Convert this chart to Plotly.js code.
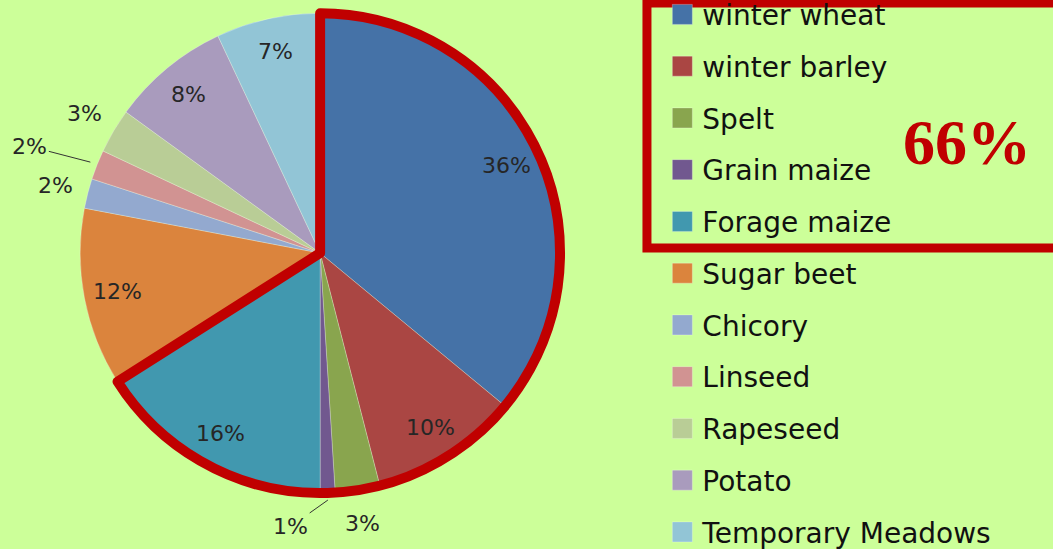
<!DOCTYPE html>
<html><head><meta charset="utf-8">
<script src="https://cdn.plot.ly/plotly-3.0.1.min.js"></script>
<style>html,body{margin:0;padding:0;background:#ccff99;}#chart{width:1053px;height:549px;}</style>
</head><body><div id="chart"></div>
<script>
const crops = ["winter wheat","winter barley","Spelt","Grain maize","Forage maize","Sugar beet","Chicory","Linseed","Rapeseed","Potato","Temporary Meadows"];
const shares = [36,10,3,1,16,12,2,2,3,8,7];
const colors = ["#4572a7","#aa4643","#89a54e","#71588f","#4198af","#db843d","#93a9cf","#d19392","#b9cd96","#a99bbd","#92c5d6"];
const labelPlace = ["in","in","out","lead","in","in","out","lead","out","in","in"];
const cerealCount = 5;
const cerealShare = shares.slice(0,cerealCount).reduce((a,b)=>a+b,0);

const W = 1053, H = 549;
const domain = {x:[0.076,0.532], y:[0.102,0.976]};
const pie = {
  type:"pie", labels: crops.map(c=>'<span style="font-size:28px">'+c+'</span>'), values: shares, sort:false, direction:"clockwise", rotation:0,
  marker:{colors:colors, line:{color:"rgba(255,255,255,0.45)", width:0.6}},
  textinfo:"none", hoverinfo:"label+percent", domain:domain
};
const outline = {
  type:"pie", values:[cerealShare, 100-cerealShare], sort:false, direction:"clockwise", rotation:0,
  marker:{colors:["rgba(0,0,0,0)","rgba(0,0,0,0)"], line:{color:["#c00000","rgba(0,0,0,0)"], width:[10,0]}},
  textinfo:"none", hoverinfo:"skip", showlegend:false, domain:domain
};
const layout = {
  width:W, height:H, margin:{l:0,r:0,t:0,b:0,autoexpand:false},
  paper_bgcolor:"#ccff99", plot_bgcolor:"#ccff99",
  showlegend:true,
  legend:{x:0.629, xanchor:"left", y:1.03, yanchor:"top", maxheight:1000, font:{family:"DejaVu Sans, sans-serif", size:37.5, color:"#111"}, bgcolor:"rgba(0,0,0,0)"},
  shapes:[{type:"rect", xref:"paper", yref:"paper", x0:0.6144, x1:1.02, y0:0.5483, y1:0.9945, line:{color:"#c00000", width:9}, fillcolor:"rgba(0,0,0,0)"}],
  annotations:[{xref:"paper", yref:"paper", x:967/W, y:(H-142)/H, xanchor:"center", yanchor:"middle", text:"<b>"+cerealShare+"%</b>", showarrow:false, font:{family:"Liberation Serif, serif", size:64, color:"#c00000"}}]
};
const gd = document.getElementById("chart");
Plotly.newPlot(gd,[pie,outline],layout,{displayModeBar:false,staticPlot:true}).then(()=>{
  const cd0 = gd.calcdata[0][0];
  const cx = cd0.cx, cy = cd0.cy, r = cd0.r;
  const total = shares.reduce((a,b)=>a+b,0);
  let cum = 0;
  const anns = layout.annotations.slice();
  shares.forEach((v,i)=>{
    const mid = (cum + v/2)/total * 2*Math.PI; cum += v;
    const sx = Math.sin(mid), sy = -Math.cos(mid);
    const txt = v + "%";
    const font = {family:"DejaVu Sans, sans-serif", size:22, color:"#262626"};
    const base = {xref:"paper", yref:"paper", xanchor:"center", yanchor:"middle", text:txt, font:font};
    if (labelPlace[i]==="in") {
      anns.push(Object.assign({}, base, {x:(cx+sx*r*0.86)/W, y:1-(cy+sy*r*0.86)/H, showarrow:false}));
    } else if (labelPlace[i]==="out") {
      anns.push(Object.assign({}, base, {x:(cx+sx*r*1.14)/W, y:1-(cy+sy*r*1.14)/H, showarrow:false}));
    } else {
      const ex = cx+sx*r*1.03, ey = cy+sy*r*1.03;
      const lx = cx+sx*r*1.14 - (i===3?38:36), ly = cy+sy*r*1.14 + (i===3?0:-6);
      anns.push(Object.assign({}, base, {x:ex/W, y:1-ey/H, axref:"pixel", ayref:"pixel", ax:lx-ex, ay:ly-ey, showarrow:true, arrowhead:0, arrowwidth:1, arrowcolor:"#333", standoff:0, startstandoff:0}));
    }
  });
  return Plotly.relayout(gd,{annotations:anns});
}).then(()=>{
  const traces = gd.querySelectorAll(".pielayer .trace");
  if (traces.length>1) traces[1].querySelectorAll("path.surface").forEach(p=>{p.style.strokeLinejoin="round";});
  gd.querySelectorAll(".legend .legendtext").forEach(t=>{
    const y = parseFloat(t.getAttribute("y")||"0");
    t.setAttribute("y", y-4);
  });
  gd.querySelectorAll(".legend .legendpie").forEach(p=>{
    p.setAttribute("d","M10,10H-10V-10H10Z");
  });
});
</script></body></html>
